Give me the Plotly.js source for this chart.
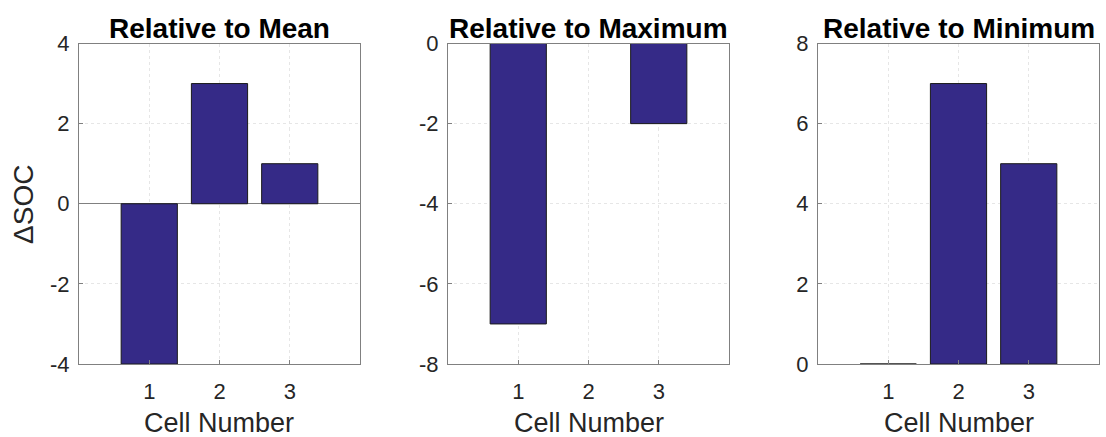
<!DOCTYPE html>
<html><head><meta charset="utf-8">
<script src="https://cdn.plot.ly/plotly-3.0.1.min.js"></script>
<style>html,body{margin:0;padding:0;background:#fff}</style>
</head><body>
<div id="chart" style="width:1106px;height:437px"></div>
<script>
const cells = [1, 2, 3];
const relMean = [-4, 3, 1];
const relMax = [-7, 0, -2];
const relMin = [0, 7, 5];
const titles = ["Relative to Mean", "Relative to Maximum", "Relative to Minimum"];
const xTitle = "Cell Number";
const yTitle = "ΔSOC";
const yRanges = [[-4, 4], [-8, 0], [0, 8]];
const yTicks = [[-4, -2, 0, 2, 4], [-8, -6, -4, -2, 0], [0, 2, 4, 6, 8]];

const W = 1106, H = 437;
const xd = [[79, 360], [448, 729], [818, 1099]];
const yTop = 43.5, yBot = 364;
const font = "Liberation Sans, Arial, Helvetica, sans-serif";
const barColor = "#352a87";
const series = [relMean, relMax, relMin];

const data = series.map((v, i) => ({
  type: "bar", x: cells, y: v, width: 0.8,
  xaxis: i === 0 ? "x" : "x" + (i + 1),
  yaxis: i === 0 ? "y" : "y" + (i + 1),
  marker: {color: barColor, line: {color: "#1a1a1a", width: 1}},
  showlegend: false, hoverinfo: "x+y"
}));

const layout = {
  width: W, height: H,
  margin: {l: 0, r: 0, t: 0, b: 0},
  paper_bgcolor: "#fff", plot_bgcolor: "#fff",
  font: {family: font, color: "#262626"},
  annotations: []
};
for (let i = 0; i < 3; i++) {
  const sx = i === 0 ? "" : String(i + 1);
  const cx = (xd[i][0] + xd[i][1]) / 2 / W;
  layout["xaxis" + sx] = {
    domain: [xd[i][0] / W, xd[i][1] / W],
    anchor: "y" + sx,
    range: [0, 4], tickvals: cells, ticktext: cells.map(String),
    ticks: "inside", ticklen: 4, tickcolor: "#808080",
    showgrid: true, gridcolor: "#e6e6e6", griddash: "dot", gridwidth: 1,
    showline: true, linecolor: "#808080", linewidth: 1, mirror: true,
    zeroline: false,
    tickfont: {size: 22, color: "#262626", family: font},
    ticklabelstandoff: 8,
    fixedrange: true
  };
  layout["yaxis" + sx] = {
    domain: [(H - yBot) / H, (H - yTop) / H],
    anchor: "x" + sx,
    range: yRanges[i], tickvals: yTicks[i], ticktext: yTicks[i].map(t => String(t)),
    ticks: "inside", ticklen: 4, tickcolor: "#808080",
    showgrid: true, gridcolor: "#e6e6e6", griddash: "dot", gridwidth: 1,
    showline: true, linecolor: "#808080", linewidth: 1, mirror: true,
    zeroline: i === 0, zerolinecolor: "#808080", zerolinewidth: 1,
    tickfont: {size: 22, color: "#262626", family: font},
    ticklabelstandoff: 4,
    fixedrange: true
  };
  layout.annotations.push({
    text: "<b>" + titles[i] + "</b>", xref: "paper", yref: "paper",
    x: cx, y: (H - yTop - 2) / H,
    xanchor: "center", yanchor: "bottom", showarrow: false,
    font: {size: 28, color: "#000", family: font}
  });
  layout.annotations.push({
    text: xTitle, xref: "paper", yref: "paper",
    x: cx, y: (H - 423) / H,
    xanchor: "center", yanchor: "middle", showarrow: false,
    font: {size: 27, color: "#262626", family: font}
  });
}
layout.annotations.push({
  text: yTitle, xref: "paper", yref: "paper",
  x: 23 / W, y: (H - 205) / H, textangle: -90,
  xanchor: "center", yanchor: "middle", showarrow: false,
  font: {size: 28, color: "#262626", family: font}
});
Plotly.newPlot("chart", data, layout, {displayModeBar: false, staticPlot: true});
</script>
</body></html>
